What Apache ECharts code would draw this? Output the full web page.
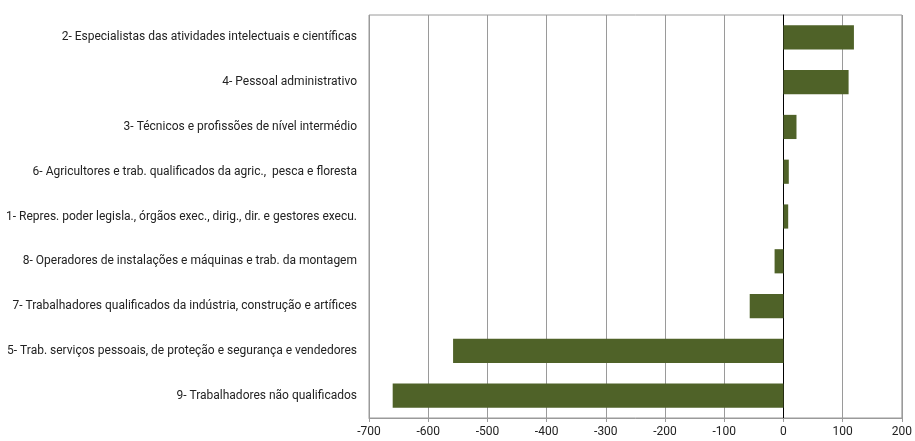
<!DOCTYPE html>
<html>
<head>
<meta charset="utf-8">
<script src="https://cdn.jsdelivr.net/npm/echarts@6/dist/echarts.min.js"></script>
<style>
  html, body { margin: 0; padding: 0; background: #fff; }
  #chart { width: 915px; height: 441px; }
</style>
</head>
<body>
<div id="chart"></div>
<script>
// categories listed bottom to top (category axis on y starts at the bottom)
const categories = [
  '9- Trabalhadores não qualificados',
  '5- Trab. serviços pessoais, de proteção e segurança e vendedores',
  '7- Trabalhadores qualificados da indústria, construção e artífices',
  '8- Operadores de instalações e máquinas e trab. da montagem',
  '1- Repres. poder legisla., órgãos exec., dirig., dir. e gestores execu.',
  '6- Agricultores e trab. qualificados da agric.,  pesca e floresta',
  '3- Técnicos e profissões de nível intermédio',
  '4- Pessoal administrativo',
  '2- Especialistas das atividades intelectuais e científicas'
]
const values = [-660, -558, -57, -15, 8, 9, 22, 110, 119]

const chart = echarts.init(document.getElementById('chart'))
const font = '"Liberation Sans Narrow", "Roboto", sans-serif'

chart.setOption({
  animation: false,
  grid: {
    left: 369, right: 10, top: 15, bottom: 23,
    show: true, borderColor: '#9a9a9a', borderWidth: 1
  },
  xAxis: {
    type: 'value',
    min: -700, max: 200, interval: 100,
    axisLine: { show: true, lineStyle: { color: '#9a9a9a' } },
    axisTick: { show: true, length: 4, lineStyle: { color: '#9a9a9a' } },
    splitLine: { show: true, lineStyle: { color: '#9a9a9a', width: 1 } },
    axisLabel: { color: '#222', fontSize: 12, fontFamily: font, margin: 8 }
  },
  yAxis: {
    type: 'category',
    data: categories,
    axisLine: { show: true, onZero: true, lineStyle: { color: '#000', width: 1 } },
    axisTick: { show: false },
    axisLabel: { color: '#222', fontSize: 12, fontFamily: font, margin: 12 }
  },
  series: [{
    type: 'bar',
    data: values,
    barCategoryGap: '46%',
    itemStyle: { color: '#4f6228' }
  }]
})
</script>
</body>
</html>
